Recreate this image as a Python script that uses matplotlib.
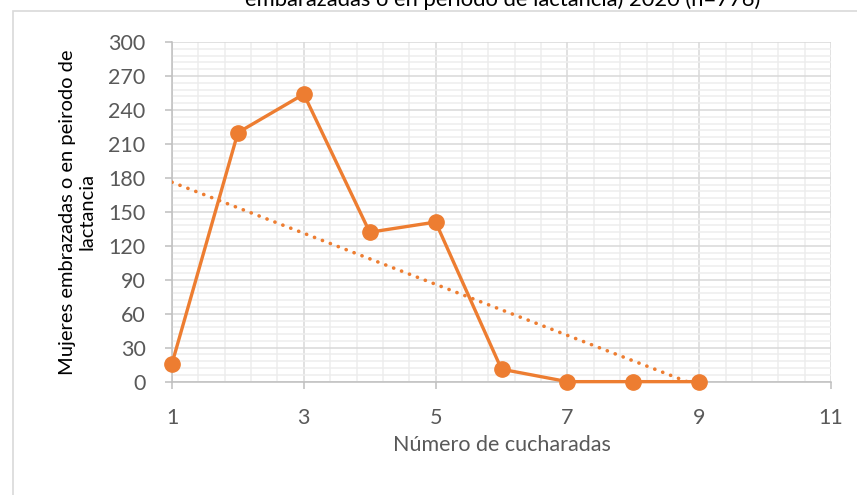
import numpy as np
import matplotlib.pyplot as plt
from matplotlib.patches import Rectangle
from matplotlib.ticker import MultipleLocator

# Data
cucharadas = [1, 2, 3, 4, 5, 6, 7, 8, 9]
mujeres = [16, 220, 254, 132, 141, 11, 0, 0, 0]

title = "embarazadas o en período de lactancia) 2020 (n=776)"
xlabel = "Número de cucharadas"
ylabel = "Mujeres embrazadas o en peirodo de\nlactancia"

orange = "#ED7D31"
plt.rcParams['font.family'] = ['Lato', 'DejaVu Sans']

fig = plt.figure(figsize=(8.57, 4.95), dpi=100)
ax = fig.add_axes([0.2007, 0.229, 0.769, 0.686])

# chart area border (partly cut off by the picture edge)
fig.patches.append(Rectangle((13 / 857, -0.1), 1.2, 1 - 11 / 495 + 0.1,
                             transform=fig.transFigure, fill=False,
                             edgecolor="#d9d9d9", lw=1.2))

# linear trendline
k, b = np.polyfit(cucharadas, mujeres, 1)
tx = np.array([cucharadas[0], cucharadas[-1]])
ax.plot(tx, k * tx + b, color=orange, lw=2.6, linestyle=(0, (0.05, 2.3)),
        dash_capstyle='round', zorder=3)

ax.plot(cucharadas, mujeres, color=orange, lw=2.4, marker='o', ms=11,
        zorder=4, clip_on=False)

ax.set_xlim(1, 11)
ax.set_ylim(0, 300)
ax.xaxis.set_major_locator(MultipleLocator(2, offset=1))
ax.xaxis.set_minor_locator(MultipleLocator(0.4, offset=0.2))
ax.yaxis.set_major_locator(MultipleLocator(30))
ax.yaxis.set_minor_locator(MultipleLocator(6))

ax.grid(which='major', color="#d9d9d9", lw=1.1)
ax.grid(which='minor', color="#ededed", lw=1.1)
ax.set_axisbelow(True)

for s in ['top', 'right']:
    ax.spines[s].set_visible(False)
for s in ['left', 'bottom']:
    ax.spines[s].set_color("#bfbfbf")
    ax.spines[s].set_linewidth(1.1)

ax.tick_params(which='major', length=5, color="#bfbfbf", width=1.1,
               labelsize=15.5, labelcolor="#595959")
ax.tick_params(axis='x', pad=14)
ax.tick_params(axis='y', pad=14)
ax.tick_params(which='minor', length=0)

ax.set_xlabel(xlabel, fontsize=15.5, color="#595959", labelpad=5)
ax.set_ylabel(ylabel, fontsize=14.5, color="black", labelpad=9)

fig.text(0.587, 1 - 6 / 495, title, ha='center', va='baseline',
         fontsize=15.8, color="black")

fig.savefig("out.png", dpi=100)
